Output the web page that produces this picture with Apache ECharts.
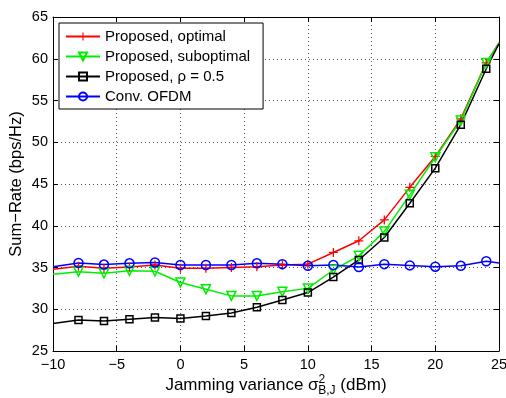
<!doctype html>
<html lang="en">
<head>
    <meta charset="UTF-8">
    <title>Sum-Rate vs jamming variance</title>
    <style>
        * { margin: 0; padding: 0; }
        body { background: #fff; }
        #chart { width: 506px; height: 398px; }
    </style>
</head>
<body>
<div id="chart"></div>
<script src="https://cdn.jsdelivr.net/npm/echarts@6/dist/echarts.min.js"></script>
<script>
    // jamming variance (dBm); first and last points are line ends without marker
    const xVals = [-10, -8, -6, -4, -2, 0, 2, 4, 6, 8, 10, 12, 14, 16, 18, 20, 22, 24, 25];

    const optimal = [34.8, 35.15, 34.9, 35.05, 35.3, 34.9, 34.9, 35.0, 35.1, 35.3, 35.4, 36.8, 38.2, 40.7, 44.6, 48.3, 52.8, 59.5, 61.9];
    const suboptimal = [34.2, 34.5, 34.3, 34.6, 34.55, 33.2, 32.4, 31.6, 31.6, 32.1, 32.5, 34.7, 36.4, 39.3, 43.7, 48.2, 52.6, 59.5, 61.9];
    const rho05 = [28.3, 28.7, 28.6, 28.8, 29.0, 28.9, 29.2, 29.55, 30.25, 31.1, 32.0, 33.85, 35.9, 38.6, 42.7, 46.9, 52.1, 58.8, 61.8];
    const convOfdm = [35.1, 35.55, 35.35, 35.5, 35.6, 35.3, 35.3, 35.3, 35.5, 35.4, 35.2, 35.3, 35.05, 35.4, 35.25, 35.1, 35.2, 35.75, 35.55];

    const seriesNames = ['Proposed, optimal', 'Proposed, suboptimal', 'Proposed, \u03c1 = 0.5', 'Conv. OFDM'];

    const plusPath = 'path://M4.3,0h1.4v10h-1.4z M0,4.3h10v1.4h-10z';

    const toData = function (ys) {
        return xVals.map(function (x, i) {
            const item = {value: [x, ys[i]]};
            if (x === -10 || x === 25) item.symbol = 'none';
            return item;
        });
    };

    const makeSeries = function (name, ys, color, symbol, size, rotate, filled) {
        return {
            name: name,
            type: 'line',
            data: toData(ys),
            symbol: symbol,
            symbolSize: size,
            symbolRotate: rotate,
            showAllSymbol: true,
            clip: true,
            lineStyle: {color: color, width: 1.5},
            itemStyle: filled
                ? {color: color, borderWidth: 0}
                : {color: 'rgba(255,255,255,0)', borderColor: color, borderWidth: 1.5},
            emphasis: {disabled: true},
            z: 3
        };
    };

    const chart = echarts.init(document.getElementById('chart'));
    const font = 'Liberation Sans, Arial, sans-serif';

    const axisCommon = {
        axisLine: {onZero: false, lineStyle: {color: '#000', width: 1}},
        axisTick: {inside: true, length: 5, lineStyle: {color: '#000'}},
    };
    const gridDots = {show: true, lineStyle: {color: '#555', type: [1, 3], width: 1}};

    chart.setOption({
        backgroundColor: '#fff',
        animation: false,
        grid: {left: 53, right: 7, top: 17, bottom: 47, containLabel: false, outerBoundsMode: 'none'},
        legend: {
            orient: 'vertical',
            left: 59,
            top: 23,
            padding: [6, 13, 5, 6],
            itemGap: 5,
            itemWidth: 34,
            itemHeight: 10,
            backgroundColor: '#fff',
            borderColor: '#000',
            borderWidth: 1,
            textStyle: {fontFamily: font, fontSize: 15, color: '#000'},
            data: seriesNames
        },
        xAxis: [{
            type: 'value',
            min: -10,
            max: 25,
            interval: 5,
            ...axisCommon,
            axisLabel: {
                fontFamily: font, fontSize: 14.5, color: '#000', margin: 6,
                formatter: function (v) { return v < 0 ? '\u2212' + Math.abs(v) : String(v); }
            },
            splitLine: gridDots,
            name: '{a|Jamming variance \u03c3}{sup|2}{sub|B,J}{a| (dBm)}',
            nameLocation: 'middle',
            nameGap: 23,
            nameMoveOverlap: false,
            nameTextStyle: {
                rich: {
                    a: {fontFamily: font, fontSize: 17, color: '#000'},
                    sup: {fontFamily: font, fontSize: 12, color: '#000', verticalAlign: 'bottom', padding: [0, 0, 11, 0]},
                    sub: {fontFamily: font, fontSize: 12, color: '#000', verticalAlign: 'top', padding: [11, 0, 0, -7]}
                }
            }
        }, {
            type: 'value',
            position: 'top',
            min: -10,
            max: 25,
            interval: 5,
            ...axisCommon,
            axisLabel: {show: false},
            splitLine: {show: false}
        }],
        yAxis: [{
            type: 'value',
            min: 25,
            max: 65,
            interval: 5,
            ...axisCommon,
            axisLabel: {fontFamily: font, fontSize: 14.5, color: '#000', margin: 5},
            splitLine: gridDots,
            name: 'Sum\u2212Rate (bps/Hz)',
            nameLocation: 'middle',
            nameGap: 28,
            nameMoveOverlap: false,
            nameTextStyle: {fontFamily: font, fontSize: 16.5, color: '#000'}
        }, {
            type: 'value',
            position: 'right',
            min: 25,
            max: 65,
            interval: 5,
            ...axisCommon,
            axisLabel: {show: false},
            splitLine: {show: false}
        }],
        series: [
            makeSeries(seriesNames[0], optimal, '#ff0000', plusPath, 9, 0, true),
            makeSeries(seriesNames[1], suboptimal, '#00ee00', 'triangle', 9, 180, false),
            makeSeries(seriesNames[2], rho05, '#000000', 'rect', 7, 0, false),
            makeSeries(seriesNames[3], convOfdm, '#0000ff', 'circle', 9, 0, false)
        ]
    });
</script>
</body>
</html>
